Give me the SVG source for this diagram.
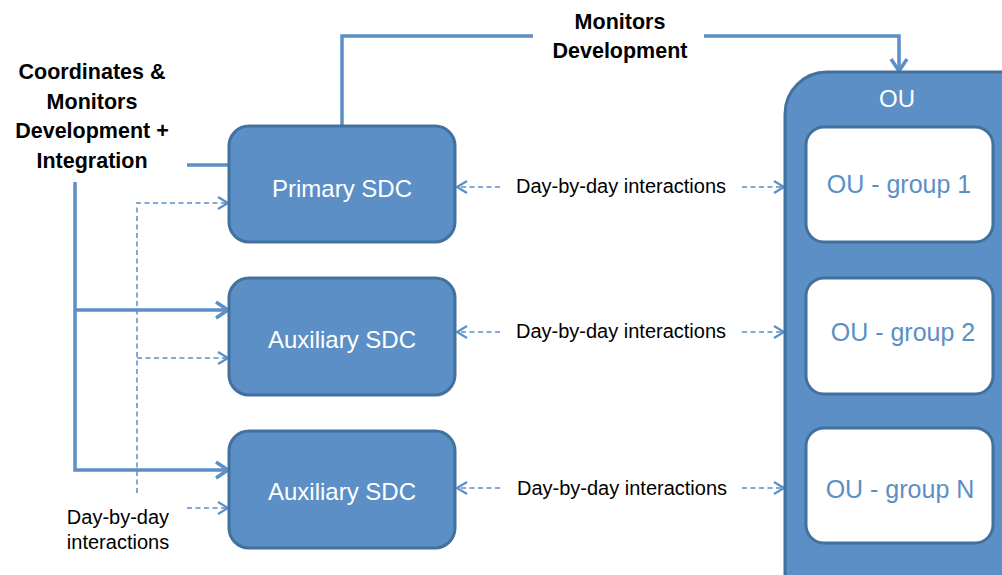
<svg xmlns="http://www.w3.org/2000/svg" width="1002" height="575" viewBox="0 0 1002 575">
<style>
.box{fill:#5B8FC6;stroke:#43719E;stroke-width:3}
.grp{fill:#FFFFFF;stroke:#43719E;stroke-width:3}
.solid{fill:none;stroke:#5B8FC6;stroke-width:3.5}
.dash{fill:none;stroke:#5B8FC6;stroke-width:1.5;stroke-dasharray:5 3.5}
.wt{font-family:"Liberation Sans",Arial,sans-serif;fill:#FFFFFF;text-anchor:middle}
.bt{font-family:"Liberation Sans",Arial,sans-serif;fill:#5B8FC6;text-anchor:middle;font-size:25px}
.bold{font-family:"Liberation Sans",Arial,sans-serif;font-weight:bold;fill:#000;text-anchor:middle;font-size:21.5px}
.lab{font-family:"Liberation Sans",Arial,sans-serif;fill:#000;text-anchor:middle;font-size:20px}
</style>
<defs>
<marker id="ah" markerUnits="userSpaceOnUse" markerWidth="16" markerHeight="20" refX="13" refY="9" orient="auto" overflow="visible">
<path d="M1,1 L13,9 L1,17" fill="none" stroke="#5B8FC6" stroke-width="3.5"/>
</marker>
<marker id="ahd" markerUnits="userSpaceOnUse" markerWidth="14" markerHeight="16" refX="11" refY="7" orient="auto" overflow="visible">
<path d="M1,1 L11,7 L1,13" fill="none" stroke="#5B8FC6" stroke-width="2.2"/>
</marker>
</defs>
<g id="connectors">
<path class="solid" d="M342,126 V36 H533"/>
<path class="solid" d="M704,36 H899 V71" marker-end="url(#ah)"/>
<path class="solid" d="M187,165 H229"/>
<path class="solid" d="M75,182 V470 H228" marker-end="url(#ah)"/>
<path class="solid" d="M75,310 H228" marker-end="url(#ah)"/>
<path class="dash" d="M137,493 V203 H228" marker-end="url(#ahd)"/>
<path class="dash" d="M137,358 H228" marker-end="url(#ahd)"/>
<path class="dash" d="M187,508 H228" marker-end="url(#ahd)"/>
<path class="dash" d="M500,187 H457" marker-end="url(#ahd)"/>
<path class="dash" d="M742,187 H784" marker-end="url(#ahd)"/>
<path class="dash" d="M500,332 H457" marker-end="url(#ahd)"/>
<path class="dash" d="M742,332 H784" marker-end="url(#ahd)"/>
<path class="dash" d="M500,488 H457" marker-end="url(#ahd)"/>
<path class="dash" d="M742,488 H784" marker-end="url(#ahd)"/>
</g>
<g id="label-coordinates">
<text class="bold" x="92" y="79">Coordinates &amp;</text>
<text class="bold" x="92" y="109">Monitors</text>
<text class="bold" x="92" y="138">Development +</text>
<text class="bold" x="92" y="168">Integration</text>
</g>
<g id="label-monitors">
<text class="bold" x="620" y="29">Monitors</text>
<text class="bold" x="620" y="58">Development</text>
</g>
<g id="primary-sdc">
<rect class="box" x="229" y="126" width="226" height="116" rx="20"/>
<text class="wt" x="342" y="197" font-size="24">Primary SDC</text>
</g>
<g id="aux-sdc-1">
<rect class="box" x="229" y="278" width="226" height="117" rx="20"/>
<text class="wt" x="342" y="348" font-size="24">Auxiliary SDC</text>
</g>
<g id="aux-sdc-2">
<rect class="box" x="229" y="431" width="226" height="117" rx="20"/>
<text class="wt" x="342" y="500" font-size="24">Auxiliary SDC</text>
</g>
<g id="ou">
<rect class="box" x="785" y="72" width="260" height="560" rx="42"/>
<text class="wt" x="897" y="107" font-size="24">OU</text>
</g>
<g id="ou-group-1">
<rect class="grp" x="806" y="127" width="187" height="115" rx="18"/>
<text class="bt" x="899" y="193">OU - group 1</text>
</g>
<g id="ou-group-2">
<rect class="grp" x="806" y="278" width="187" height="116" rx="18"/>
<text class="bt" x="903" y="341">OU - group 2</text>
</g>
<g id="ou-group-n">
<rect class="grp" x="806" y="428" width="187" height="115" rx="18"/>
<text class="bt" x="900" y="498">OU - group N</text>
</g>
<g id="labels-interactions">
<text class="lab" x="621" y="193">Day-by-day interactions</text>
<text class="lab" x="621" y="338">Day-by-day interactions</text>
<text class="lab" x="622" y="495">Day-by-day interactions</text>
<text class="lab" x="118" y="524">Day-by-day</text>
<text class="lab" x="118" y="549">interactions</text>
</g>
</svg>
